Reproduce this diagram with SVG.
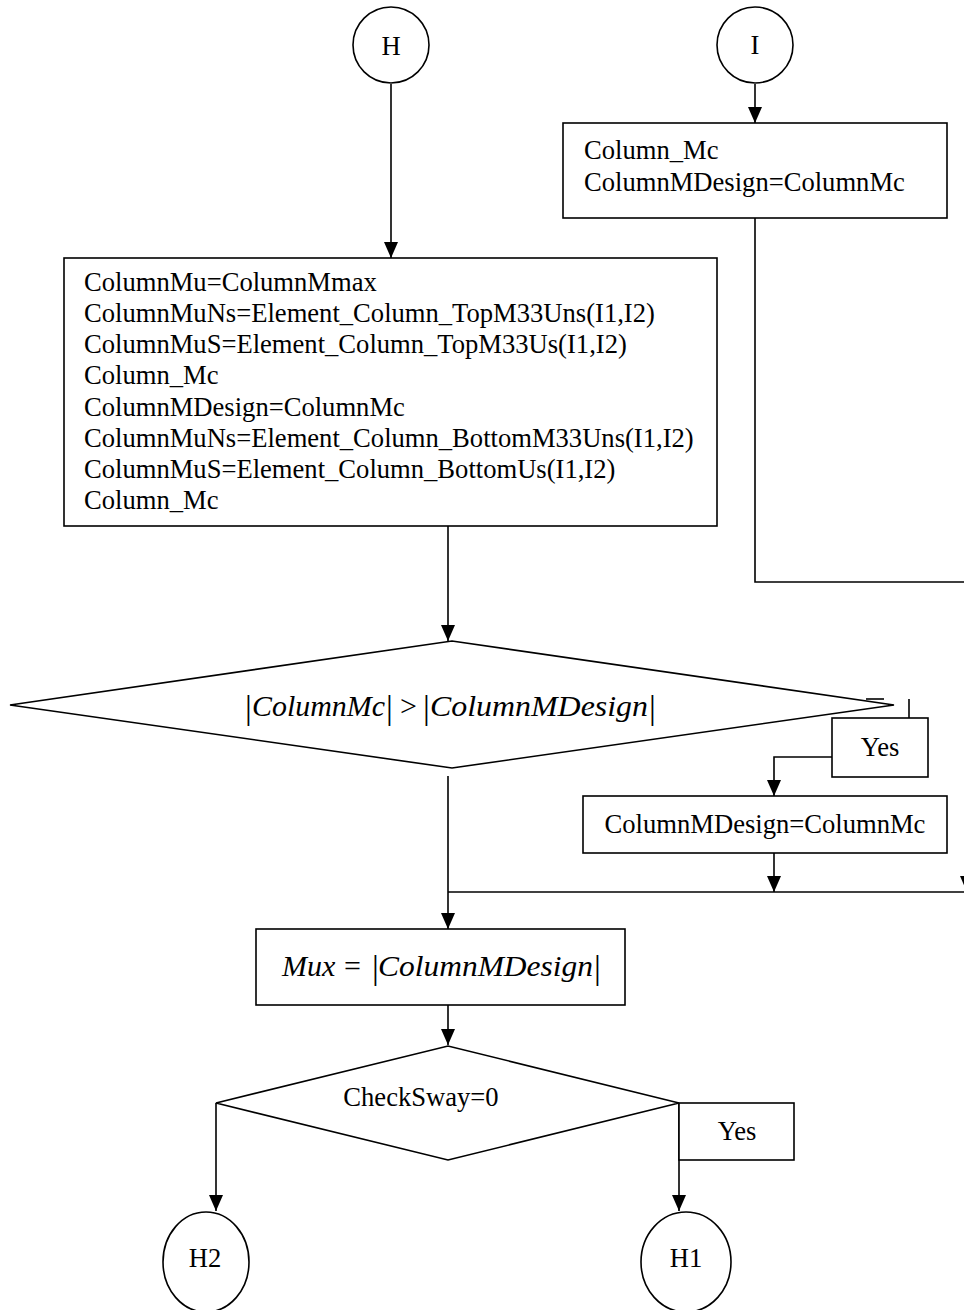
<svg xmlns="http://www.w3.org/2000/svg" width="964" height="1310" viewBox="0 0 964 1310">
<style>
.s{fill:none;stroke:#000;stroke-width:1.6}
.n{fill:#fff;stroke:#000;stroke-width:1.6}
.t{font-family:"Liberation Serif","Times New Roman",serif;font-size:26.6px;fill:#000}
.e{font-family:"Liberation Serif","Times New Roman",serif;font-size:30px;fill:#000;font-style:italic}
.b{font-style:normal;font-weight:100}
.bar{font-style:normal;font-size:34px}
</style>
<defs>
<marker id="d" markerUnits="userSpaceOnUse" markerWidth="14" markerHeight="16" viewBox="0 0 14 16" refX="7" refY="16" orient="0">
<path d="M0,0 L14,0 L7,16 Z" fill="#000"/>
</marker>
</defs>
<rect width="964" height="1310" fill="#fff"/>
<g id="connectors">
<line class="s" x1="391" y1="84" x2="391" y2="258" marker-end="url(#d)"/>
<line class="s" x1="755" y1="84" x2="755" y2="123" marker-end="url(#d)"/>
<polyline class="s" points="755,218 755,582 966,582"/>
<line class="s" x1="448" y1="526" x2="448" y2="641" marker-end="url(#d)"/>
<line class="s" x1="448" y1="776" x2="448" y2="929" marker-end="url(#d)"/>
<line class="s" x1="967" y1="870" x2="967" y2="892" marker-end="url(#d)"/>
<line class="s" x1="448" y1="892" x2="966" y2="892"/>
<line class="s" x1="909" y1="699" x2="909" y2="718"/>
<line class="s" x1="866" y1="699" x2="884" y2="699"/>
<polyline class="s" points="832,757 774,757 774,796" marker-end="url(#d)"/>
<line class="s" x1="774" y1="853" x2="774" y2="892" marker-end="url(#d)"/>
<line class="s" x1="448" y1="1005" x2="448" y2="1045" marker-end="url(#d)"/>
<line class="s" x1="216" y1="1103" x2="216" y2="1211" marker-end="url(#d)"/>
<line class="s" x1="679" y1="1103" x2="679" y2="1211" marker-end="url(#d)"/>
</g>
<g id="nodeH">
<circle class="n" cx="391" cy="45" r="38"/>
<text class="t" x="391" y="55" text-anchor="middle">H</text>
</g>
<g id="nodeI">
<circle class="n" cx="755" cy="45" r="38"/>
<text class="t" x="755" y="54" text-anchor="middle">I</text>
</g>
<g id="boxI">
<rect class="n" x="563" y="123" width="384" height="95"/>
<text class="t" x="584" y="159">Column_Mc</text>
<text class="t" x="584" y="191">ColumnMDesign=ColumnMc</text>
</g>
<g id="boxMain">
<rect class="n" x="64" y="258" width="653" height="268"/>
<text class="t" x="84" y="291">ColumnMu=ColumnMmax</text>
<text class="t" x="84" y="322">ColumnMuNs=Element_Column_TopM33Uns(I1,I2)</text>
<text class="t" x="84" y="353">ColumnMuS=Element_Column_TopM33Us(I1,I2)</text>
<text class="t" x="84" y="384">Column_Mc</text>
<text class="t" x="84" y="416">ColumnMDesign=ColumnMc</text>
<text class="t" x="84" y="447">ColumnMuNs=Element_Column_BottomM33Uns(I1,I2)</text>
<text class="t" x="84" y="478">ColumnMuS=Element_Column_BottomUs(I1,I2)</text>
<text class="t" x="84" y="509">Column_Mc</text>
</g>
<g id="decision1">
<polygon class="n" points="10,705 452,641 894,705 452,768"/>
<text class="e" y="716"><tspan class="bar" x="245" y="719">|</tspan><tspan x="252" y="716" textLength="133" lengthAdjust="spacingAndGlyphs">ColumnMc</tspan><tspan class="bar" x="386" y="719">|</tspan><tspan class="b" x="400" y="716">&gt;</tspan><tspan class="bar" x="423" y="719">|</tspan><tspan x="430" y="716" textLength="218" lengthAdjust="spacingAndGlyphs">ColumnMDesign</tspan><tspan class="bar" x="649" y="719">|</tspan></text>
</g>
<g id="yes1">
<rect class="n" x="832" y="718" width="96" height="59"/>
<text class="t" x="880" y="756" text-anchor="middle">Yes</text>
</g>
<g id="boxSet">
<rect class="n" x="583" y="796" width="364" height="57"/>
<text class="t" x="765" y="833" text-anchor="middle">ColumnMDesign=ColumnMc</text>
</g>
<g id="boxMux">
<rect class="n" x="256" y="929" width="369" height="76"/>
<text class="e" y="976"><tspan x="282" y="976">Mux</tspan><tspan class="b" x="344" y="976">=</tspan><tspan class="bar" x="372" y="979">|</tspan><tspan x="378" y="976" textLength="215" lengthAdjust="spacingAndGlyphs">ColumnMDesign</tspan><tspan class="bar" x="594" y="979">|</tspan></text>
</g>
<g id="decision2">
<polygon class="n" points="216,1103 448,1046 679,1103 448,1160"/>
<text class="t" x="421" y="1106" text-anchor="middle">CheckSway=0</text>
</g>
<g id="yes2">
<rect class="n" x="679" y="1103" width="115" height="57"/>
<text class="t" x="737" y="1140" text-anchor="middle">Yes</text>
</g>
<g id="nodeH2">
<ellipse class="n" cx="206" cy="1262" rx="43" ry="50"/>
<text class="t" x="205" y="1267" text-anchor="middle">H2</text>
</g>
<g id="nodeH1">
<ellipse class="n" cx="686" cy="1262" rx="45" ry="50"/>
<text class="t" x="686" y="1267" text-anchor="middle">H1</text>
</g>
</svg>
